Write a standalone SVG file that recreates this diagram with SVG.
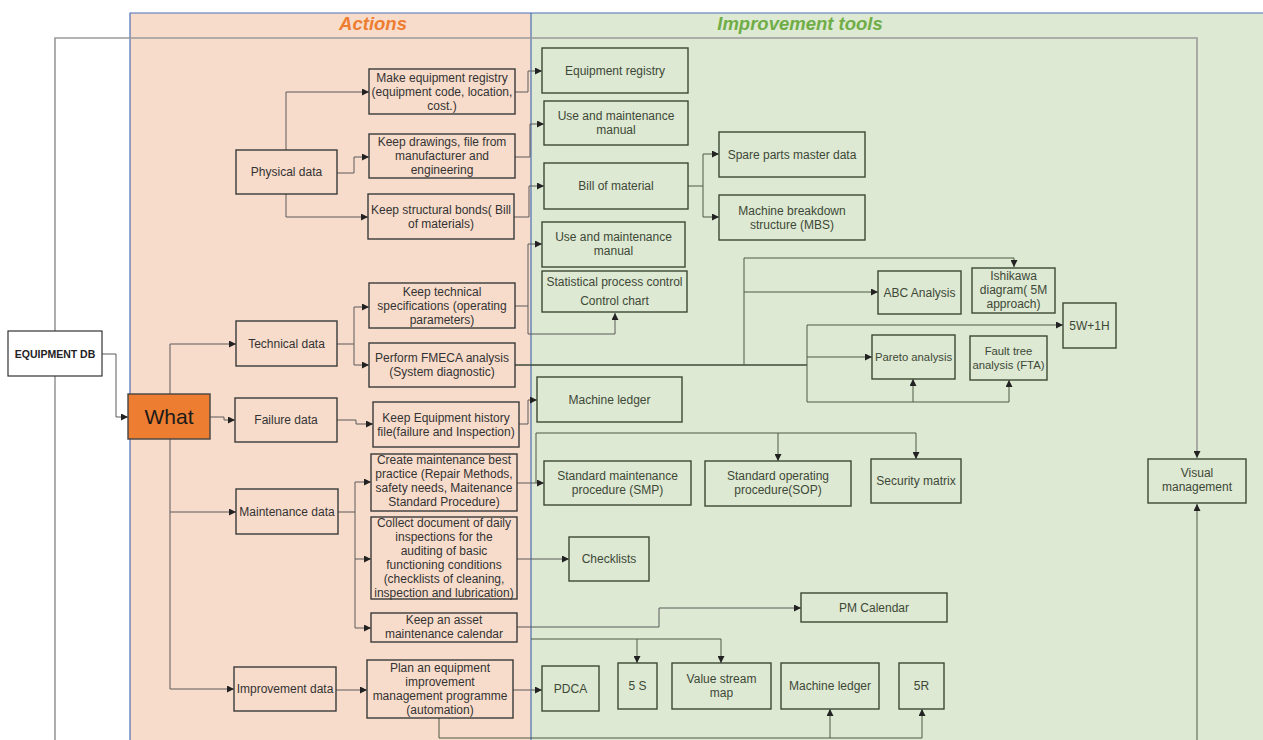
<svg xmlns="http://www.w3.org/2000/svg" width="1263" height="740" viewBox="0 0 1263 740">
<style>
.t{font-family:"Liberation Sans",Arial,sans-serif;font-size:12px;fill:#333;text-anchor:middle}
.g{font-family:"Liberation Sans",Arial,sans-serif;font-size:12px;fill:#3d4838;text-anchor:middle}
.n{font-size:11.3px}
.ba{fill:none;stroke:#3a3a3a;stroke-width:1.4}
.bg{fill:none;stroke:#3b4833;stroke-width:1.4}
.c{fill:none;stroke:#5a5a5a;stroke-width:1}
.cg{fill:none;stroke:#4d5a45;stroke-width:1}
.cd{fill:none;stroke:#3d4838;stroke-width:1.5}
.title{font-family:"Liberation Sans",Arial,sans-serif;font-size:18.5px;font-weight:bold;font-style:italic;text-anchor:middle}
</style>
<defs>
<marker id="a" viewBox="0 0 10 10" refX="10" refY="5" markerWidth="7" markerHeight="7" orient="auto" markerUnits="userSpaceOnUse"><path d="M0,0 L10,5 L0,10 z" fill="#222"/></marker>
</defs>
<rect x="0" y="0" width="1263" height="740" fill="#ffffff"/>
<g id="panels">
<rect x="130" y="13" width="401" height="727" fill="#f8dccb"/>
<rect x="531" y="13" width="732" height="727" fill="#dde9d2"/>
<path d="M130,740 V13 H1263 M531,13 V740" fill="none" stroke="#4a6fb5" stroke-width="1.2"/>
<text class="title" x="373" y="30" fill="#ed7d31">Actions</text>
<text class="title" x="800" y="30" fill="#70ad47">Improvement tools</text>
</g>
<g id="connectors">
<path d="M55,740 V38 H1197 V458" fill="none" stroke="#9a9a9a" stroke-width="1.6" marker-end="url(#a)"/>
<path d="M1197,740 V504" class="cg" marker-end="url(#a)"/>
<path d="M102,354 H116 V417 H128" class="c" marker-end="url(#a)"/>
<path d="M170,394 V344 H236" class="c" marker-end="url(#a)"/>
<path d="M170,439 V689 H234" class="c" marker-end="url(#a)"/>
<path d="M170,512 H236" class="c" marker-end="url(#a)"/>
<path d="M210,417 H224 V420 H235" class="c" marker-end="url(#a)"/>
<path d="M286,150 V92 H369" class="c" marker-end="url(#a)"/>
<path d="M337,173 H354 V157 H369" class="c" marker-end="url(#a)"/>
<path d="M286,194 V217 H368" class="c" marker-end="url(#a)"/>
<path d="M337,344 H354 V307 H369" class="c" marker-end="url(#a)"/>
<path d="M354,344 V365 H369" class="c" marker-end="url(#a)"/>
<path d="M337,420 H356 V424 H373" class="c" marker-end="url(#a)"/>
<path d="M338,512 H355 V482 H371" class="c" marker-end="url(#a)"/>
<path d="M355,512 V628 H371" class="c" marker-end="url(#a)"/>
<path d="M355,559 H371" class="c" marker-end="url(#a)"/>
<path d="M336,690 H367" class="c" marker-end="url(#a)"/>
<path d="M515,92 H528 V71 H542" class="c" marker-end="url(#a)"/>
<path d="M515,157 H530 V124 H544" class="c" marker-end="url(#a)"/>
<path d="M514,217 H529 V186 H544" class="c" marker-end="url(#a)"/>
<path d="M515,306 H528 V244 H542" class="c" marker-end="url(#a)"/>
<path d="M528,306 V334 H615 V313" class="c" marker-end="url(#a)"/>
<path d="M515,365 H807" class="cd"/>
<path d="M744,365 V258 H1014 V267" class="cg" marker-end="url(#a)"/>
<path d="M744,292 H878" class="cg" marker-end="url(#a)"/>
<path d="M807,365 V325 H1063" class="cg" marker-end="url(#a)"/>
<path d="M807,357 H872" class="cg" marker-end="url(#a)"/>
<path d="M807,365 V402 H1009 V380" class="cg" marker-end="url(#a)"/>
<path d="M913,402 V379" class="cg" marker-end="url(#a)"/>
<path d="M519,424 H528 V400 H537" class="c" marker-end="url(#a)"/>
<path d="M517,483 H544" class="c" marker-end="url(#a)"/>
<path d="M536,483 V433 H916 V459" class="cg" marker-end="url(#a)"/>
<path d="M778,433 V461" class="cg" marker-end="url(#a)"/>
<path d="M517,559 H569" class="c" marker-end="url(#a)"/>
<path d="M517,627 H659 V608 H801" class="c" marker-end="url(#a)"/>
<path d="M531,639 H721 V663" class="cg" marker-end="url(#a)"/>
<path d="M637,639 V663" class="cg" marker-end="url(#a)"/>
<path d="M513,690 H542" class="c" marker-end="url(#a)"/>
<path d="M688,186 H703 V154 H719" class="cg" marker-end="url(#a)"/>
<path d="M703,186 V217 H719" class="cg" marker-end="url(#a)"/>
<path d="M439,718 V738 H922 V709" class="cg" marker-end="url(#a)"/>
<path d="M830,738 V709" class="cg" marker-end="url(#a)"/>
</g>
<g id="equipment-db"><rect x="8" y="331" width="94" height="45" fill="#ffffff" stroke="#333" stroke-width="1.2"/><text x="55" y="357.5" style="font-family:'Liberation Sans',Arial,sans-serif;font-size:10.5px;font-weight:bold;fill:#222;text-anchor:middle">EQUIPMENT DB</text></g>
<g id="what"><rect x="128" y="394" width="82" height="45" fill="#ed7d31" stroke="#444" stroke-width="1.4"/><text x="169" y="424" style="font-family:'Liberation Sans',Arial,sans-serif;font-size:21px;fill:#1a1a1a;text-anchor:middle">What</text></g>
<g id="physical-data"><rect class="ba" x="236" y="150" width="101" height="44"/><text class="t" x="286.5" y="176">Physical data</text></g>
<g id="technical-data"><rect class="ba" x="236" y="321" width="101" height="45"/><text class="t" x="286.5" y="347.5">Technical data</text></g>
<g id="failure-data"><rect class="ba" x="235" y="398" width="102" height="44"/><text class="t" x="286" y="424">Failure data</text></g>
<g id="maintenance-data"><rect class="ba" x="236" y="489" width="102" height="45"/><text class="t" x="287" y="515.5">Maintenance data</text></g>
<g id="improvement-data"><rect class="ba" x="234" y="667" width="102" height="44"/><text class="t" x="285" y="693">Improvement data</text></g>
<g id="make-registry"><rect class="ba" x="369" y="69" width="146" height="45"/><text class="t" x="442" y="81.5">Make equipment registry</text><text class="t" x="442" y="95.5">(equipment code, location,</text><text class="t" x="442" y="109.5">cost.)</text></g>
<g id="keep-drawings"><rect class="ba" x="369" y="134" width="146" height="44"/><text class="t" x="442" y="146">Keep drawings, file from</text><text class="t" x="442" y="160">manufacturer and</text><text class="t" x="442" y="174">engineering</text></g>
<g id="keep-structural"><rect class="ba" x="368" y="194" width="146" height="45"/><text class="t" x="441" y="213.5">Keep structural bonds( Bill</text><text class="t" x="441" y="227.5">of materials)</text></g>
<g id="keep-technical"><rect class="ba" x="369" y="283" width="146" height="45"/><text class="t" x="442" y="295.5">Keep technical</text><text class="t" x="442" y="309.5">specifications (operating</text><text class="t" x="442" y="323.5">parameters)</text></g>
<g id="fmeca"><rect class="ba" x="369" y="343" width="146" height="44"/><text class="t" x="442" y="362">Perform FMECA analysis</text><text class="t" x="442" y="376">(System diagnostic)</text></g>
<g id="history-file"><rect class="ba" x="373" y="402" width="146" height="45"/><text class="t" x="446" y="421.5">Keep Equipment history</text><text class="t" x="446" y="435.5">file(failure and Inspection)</text></g>
<g id="best-practice"><rect class="ba" x="371" y="454" width="146" height="57"/><text class="t" x="444" y="464">Create maintenance best</text><text class="t" x="444" y="478">practice (Repair Methods,</text><text class="t" x="444" y="492">safety needs, Maitenance</text><text class="t" x="444" y="506">Standard Procedure)</text></g>
<g id="daily-inspections"><rect class="ba" x="371" y="517" width="146" height="82"/><text class="t" x="444" y="527">Collect document of daily</text><text class="t" x="444" y="541">inspections for the</text><text class="t" x="444" y="555">auditing of basic</text><text class="t" x="444" y="569">functioning conditions</text><text class="t" x="444" y="583">(checklists of cleaning,</text><text class="t" x="444" y="597">inspection and lubrication)</text></g>
<g id="asset-calendar"><rect class="ba" x="371" y="613" width="146" height="29"/><text class="t" x="444" y="624">Keep an asset</text><text class="t" x="444" y="638">maintenance calendar</text></g>
<g id="improvement-programme"><rect class="ba" x="367" y="660" width="146" height="58"/><text class="t" x="440" y="672">Plan an equipment</text><text class="t" x="440" y="686">improvement</text><text class="t" x="440" y="700">management programme</text><text class="t" x="440" y="714">(automation)</text></g>
<g id="equipment-registry"><rect class="bg" x="542" y="48" width="146" height="45"/><text class="g" x="615" y="74.5">Equipment registry</text></g>
<g id="manual-1"><rect class="bg" x="544" y="101" width="144" height="44"/><text class="g" x="616" y="120">Use and maintenance</text><text class="g" x="616" y="134">manual</text></g>
<g id="bill-of-material"><rect class="bg" x="544" y="163" width="144" height="46"/><text class="g" x="616" y="190">Bill of material</text></g>
<g id="spare-parts"><rect class="bg" x="719" y="132" width="146" height="45"/><text class="g" x="792" y="158.5">Spare parts master data</text></g>
<g id="mbs"><rect class="bg" x="719" y="195" width="146" height="45"/><text class="g" x="792" y="215">Machine breakdown</text><text class="g" x="792" y="229">structure (MBS)</text></g>
<g id="manual-2"><rect class="bg" x="542" y="222" width="143" height="45"/><text class="g" x="613.5" y="241">Use and maintenance</text><text class="g" x="613.5" y="255">manual</text></g>
<g id="spc"><rect class="bg" x="542" y="271" width="145" height="41"/><text class="g" x="614.5" y="286">Statistical process control</text><text class="g" x="614.5" y="305">Control chart</text></g>
<g id="abc"><rect class="bg" x="878" y="271" width="83" height="43"/><text class="g" x="919.5" y="296.5">ABC Analysis</text></g>
<g id="ishikawa"><rect class="bg" x="972" y="268" width="83" height="45"/><text class="g" x="1013.5" y="280">Ishikawa</text><text class="g" x="1013.5" y="294">diagram( 5M</text><text class="g" x="1013.5" y="308">approach)</text></g>
<g id="w5h1"><rect class="bg" x="1063" y="303" width="53" height="45"/><text class="g" x="1089.5" y="329.5">5W+1H</text></g>
<g id="pareto"><rect class="bg" x="872" y="335" width="83" height="44"/><text class="g n" x="913.5" y="361">Pareto analysis</text></g>
<g id="fta"><rect class="bg" x="970" y="336" width="77" height="44"/><text class="g n" x="1008.5" y="355">Fault tree</text><text class="g n" x="1008.5" y="369">analysis (FTA)</text></g>
<g id="machine-ledger-1"><rect class="bg" x="537" y="377" width="145" height="45"/><text class="g" x="609.5" y="403.5">Machine ledger</text></g>
<g id="smp"><rect class="bg" x="544" y="461" width="147" height="44"/><text class="g" x="617.5" y="480">Standard maintenance</text><text class="g" x="617.5" y="494">procedure (SMP)</text></g>
<g id="sop"><rect class="bg" x="705" y="461" width="146" height="45"/><text class="g" x="778" y="480">Standard operating</text><text class="g" x="778" y="494">procedure(SOP)</text></g>
<g id="security-matrix"><rect class="bg" x="871" y="459" width="90" height="44"/><text class="g" x="916" y="485">Security matrix</text></g>
<g id="visual-management"><rect class="bg" x="1148" y="459" width="98" height="44"/><text class="g" x="1197" y="477">Visual</text><text class="g" x="1197" y="491">management</text></g>
<g id="checklists"><rect class="bg" x="569" y="537" width="80" height="44"/><text class="g" x="609" y="563">Checklists</text></g>
<g id="pm-calendar"><rect class="bg" x="801" y="593" width="146" height="29"/><text class="g" x="874" y="611.5">PM Calendar</text></g>
<g id="pdca"><rect class="bg" x="542" y="666" width="57" height="45"/><text class="g" x="570.5" y="692.5">PDCA</text></g>
<g id="five-s"><rect class="bg" x="618" y="663" width="39" height="46"/><text class="g" x="637.5" y="690">5 S</text></g>
<g id="value-stream"><rect class="bg" x="672" y="663" width="99" height="46"/><text class="g" x="721.5" y="683">Value stream</text><text class="g" x="721.5" y="697">map</text></g>
<g id="machine-ledger-2"><rect class="bg" x="781" y="663" width="98" height="46"/><text class="g" x="830" y="690">Machine ledger</text></g>
<g id="five-r"><rect class="bg" x="899" y="663" width="45" height="46"/><text class="g" x="921.5" y="690">5R</text></g>
</svg>
